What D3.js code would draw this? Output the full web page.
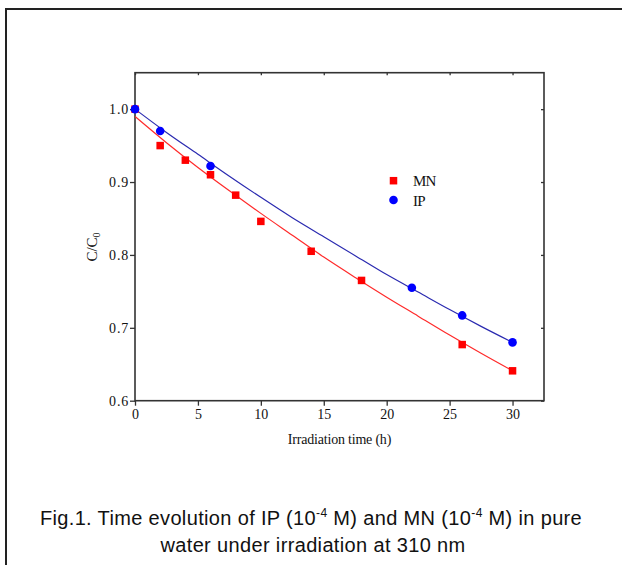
<!DOCTYPE html>
<html><head><meta charset="utf-8">
<script src="https://cdn.jsdelivr.net/npm/d3@7"></script>
<style>
html,body{margin:0;padding:0;background:#fff;}
svg{display:block;}
</style></head>
<body>
<svg id="c" width="622" height="565"></svg>
<script>
// Data
const mnTime = [0, 2, 4, 6, 8, 10, 14, 18, 26, 30];
const mnValue = [1.000, 0.950, 0.930, 0.910, 0.882, 0.846, 0.805, 0.765, 0.677, 0.641];
const ipTime = [0, 2, 6, 22, 26, 30];
const ipValue = [1.000, 0.970, 0.922, 0.755, 0.717, 0.680];
// fitted curves
const fitTime = [0, 2.5, 5, 7.5, 10, 12.5, 15, 17.5, 20, 22.5, 25, 27.5, 30];
const mnFit = [0.990, 0.954, 0.920, 0.888, 0.857, 0.827, 0.797, 0.769, 0.742, 0.716, 0.690, 0.665, 0.641];
const ipFit = [1.000, 0.968, 0.938, 0.908, 0.879, 0.851, 0.825, 0.799, 0.773, 0.749, 0.725, 0.702, 0.680];
const xTicks = [0, 5, 10, 15, 20, 25, 30];
const yTicks = [0.6, 0.7, 0.8, 0.9, 1.0];
const seriesNames = ["MN", "IP"];

const svg = d3.select("#c");
const L = 135, R = 544, T = 72.7, B = 400.7;
const x = d3.scaleLinear().domain([0, 32.5]).range([L, R]);
const y = d3.scaleLinear().domain([0.6, 1.05]).range([B, T]);
const serif = "'Liberation Serif','Times New Roman',serif";

// outer frame (extends beyond right/bottom)
svg.append("rect").attr("x", 6).attr("y", 9).attr("width", 700).attr("height", 700)
  .attr("fill", "none").attr("stroke", "#222").attr("stroke-width", 2);

// axes
const gx = svg.append("g").attr("transform", `translate(0,${B})`)
  .call(d3.axisBottom(x).tickValues(xTicks).tickFormat(d3.format("d")).tickSize(5).tickPadding(3).tickSizeOuter(0));
const gy = svg.append("g").attr("transform", `translate(${L},0)`)
  .call(d3.axisLeft(y).tickValues(yTicks).tickFormat(d3.format(".1f")).tickSize(5).tickPadding(1).tickSizeOuter(0));
const gt = svg.append("g").attr("transform", `translate(0,${T})`)
  .call(d3.axisTop(x).tickValues(xTicks).tickSize(-2.5).tickFormat("").tickSizeOuter(0));
const gr = svg.append("g").attr("transform", `translate(${R},0)`)
  .call(d3.axisRight(y).tickValues(yTicks).tickSize(-3).tickFormat("").tickSizeOuter(0));
[gx, gy, gt, gr].forEach(g => {
  g.select(".domain").remove();
  g.selectAll(".tick line").attr("stroke", "#333").attr("stroke-width", 1.3);
  g.selectAll("text").attr("font-family", serif).attr("font-size", 14).attr("fill", "#111");
});
gy.selectAll("text").attr("letter-spacing", 0.8);
// frame of plot
svg.append("rect").attr("x", L).attr("y", T).attr("width", R - L).attr("height", B - T)
  .attr("fill", "none").attr("stroke", "#333").attr("stroke-width", 1.6);

// fit lines
const line = d3.line().x(d => x(d[0])).y(d => y(d[1])).curve(d3.curveMonotoneX);
svg.append("path").datum(fitTime.map((t, i) => [t, mnFit[i]]))
  .attr("d", line).attr("fill", "none").attr("stroke", "#ff2a2a").attr("stroke-width", 1.2);
svg.append("path").datum(fitTime.map((t, i) => [t, ipFit[i]]))
  .attr("d", line).attr("fill", "none").attr("stroke", "#2a2ab0").attr("stroke-width", 1.2);

// markers
const sq = 7.5;
svg.append("g").selectAll("rect").data(mnTime.map((t, i) => [t, mnValue[i]])).join("rect")
  .attr("x", d => x(d[0]) - sq / 2).attr("y", d => y(d[1]) - sq / 2)
  .attr("width", sq).attr("height", sq).attr("fill", "#ff0000");
svg.append("g").selectAll("circle").data(ipTime.map((t, i) => [t, ipValue[i]])).join("circle")
  .attr("cx", d => x(d[0])).attr("cy", d => y(d[1])).attr("r", 4.3).attr("fill", "#0000ff");

// legend
const lx = 393.5;
svg.append("rect").attr("x", lx - sq / 2).attr("y", 180.7 - sq / 2).attr("width", sq).attr("height", sq).attr("fill", "#ff0000");
svg.append("circle").attr("cx", lx).attr("cy", 200).attr("r", 4.3).attr("fill", "#0000ff");
svg.append("text").attr("x", 413).attr("y", 186).text(seriesNames[0])
  .attr("font-family", serif).attr("font-size", 15).attr("letter-spacing", -0.8).attr("fill", "#111");
svg.append("text").attr("x", 413).attr("y", 205.5).text(seriesNames[1])
  .attr("font-family", serif).attr("font-size", 15).attr("letter-spacing", -0.8).attr("fill", "#111");

// axis titles
svg.append("text").attr("x", (L + R) / 2).attr("y", 444).attr("text-anchor", "middle")
  .attr("font-family", serif).attr("font-size", 14).attr("letter-spacing", -0.2).attr("fill", "#111")
  .text("Irradiation time (h)");
const yt = svg.append("text").attr("transform", "translate(97,247) rotate(-90)").attr("text-anchor", "middle")
  .attr("font-family", serif).attr("font-size", 15).attr("fill", "#111");
yt.append("tspan").text("C/C");
yt.append("tspan").attr("font-size", 10).attr("dy", 3).text("0");

// caption
const sans = "'Liberation Sans',Arial,sans-serif";
const cap1 = svg.append("text").attr("x", 311).attr("y", 525).attr("text-anchor", "middle")
  .attr("font-family", sans).attr("font-size", 20).attr("letter-spacing", 0.35).attr("fill", "#111");
cap1.append("tspan").text("Fig.1. Time evolution of IP (10");
cap1.append("tspan").attr("font-size", 12).attr("dy", -8).text("-4");
cap1.append("tspan").attr("dy", 8).text(" M) and MN (10");
cap1.append("tspan").attr("font-size", 12).attr("dy", -8).text("-4");
cap1.append("tspan").attr("dy", 8).text(" M) in pure");
svg.append("text").attr("x", 313).attr("y", 552).attr("text-anchor", "middle")
  .attr("font-family", sans).attr("font-size", 20).attr("letter-spacing", 0.35).attr("fill", "#111")
  .text("water under irradiation at 310 nm");
</script>
</body></html>
